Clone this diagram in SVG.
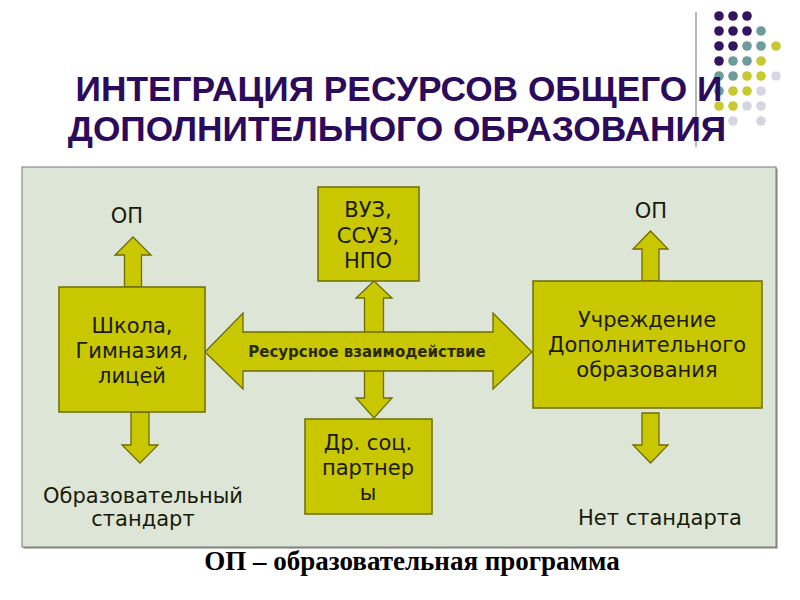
<svg xmlns="http://www.w3.org/2000/svg" width="800" height="600" viewBox="0 0 800 600">
<style>
.box{fill:#c9c700;stroke:#6e6c00;stroke-width:1.5}
.arr{fill:#c9c700;stroke:#6e6c00;stroke-width:1.3;stroke-linejoin:miter}
.t{font-family:"DejaVu Sans",Verdana,sans-serif;font-size:21px;fill:#1a1a0a;text-anchor:middle}
.title{font-family:"Liberation Sans",Arial,sans-serif;font-weight:bold;font-size:35.3px;fill:#2c0b5c;text-anchor:middle}
.p{fill:#34135f}.g{fill:#6d9c9a}.y{fill:#c8c832}.l{fill:#d6d6e2}
</style>
<rect width="800" height="600" fill="#ffffff"/>
<g id="decor">
<line x1="696" y1="12" x2="696" y2="147" stroke="#a0a0a0" stroke-width="1.5"/>
<g>
<circle class="p" cx="719" cy="16" r="4.8"/><circle class="p" cx="733" cy="16" r="4.8"/><circle class="p" cx="747" cy="16" r="4.8"/>
<circle class="p" cx="719" cy="31" r="4.8"/><circle class="p" cx="733" cy="31" r="4.8"/><circle class="p" cx="747" cy="31" r="4.8"/><circle class="g" cx="761" cy="31" r="4.8"/>
<circle class="p" cx="719" cy="46" r="4.8"/><circle class="p" cx="733" cy="46" r="4.8"/><circle class="g" cx="747" cy="46" r="4.8"/><circle class="g" cx="761" cy="46" r="4.8"/><circle class="y" cx="776" cy="46" r="4.8"/>
<circle class="p" cx="719" cy="61" r="4.8"/><circle class="g" cx="733" cy="61" r="4.8"/><circle class="g" cx="747" cy="61" r="4.8"/><circle class="y" cx="761" cy="61" r="4.8"/>
<circle class="g" cx="719" cy="76" r="4.8"/><circle class="g" cx="733" cy="76" r="4.8"/><circle class="y" cx="747" cy="76" r="4.8"/><circle class="y" cx="761" cy="76" r="4.8"/><circle class="l" cx="776" cy="76" r="4.8"/>
<circle class="g" cx="719" cy="91" r="4.8"/><circle class="y" cx="733" cy="91" r="4.8"/><circle class="y" cx="747" cy="91" r="4.8"/><circle class="l" cx="761" cy="91" r="4.8"/>
<circle class="y" cx="719" cy="106" r="4.8"/><circle class="y" cx="733" cy="106" r="4.8"/><circle class="l" cx="747" cy="106" r="4.8"/><circle class="l" cx="761" cy="106" r="4.8"/>
<circle class="l" cx="733" cy="121" r="4.8"/><circle class="l" cx="761" cy="121" r="4.8"/>
</g>
</g>
<g id="title">
<text class="title" x="399" y="101">ИНТЕГРАЦИЯ РЕСУРСОВ ОБЩЕГО И</text>
<text class="title" x="397" y="141">ДОПОЛНИТЕЛЬНОГО ОБРАЗОВАНИЯ</text>
</g>
<g id="panel">
<rect x="23.5" y="168.5" width="754" height="380" fill="#7a7a7a"/>
<rect x="22" y="167" width="754" height="380" fill="#dde6d6" stroke="#8c8c8c" stroke-width="1.2"/>
</g>
<g id="connectors">
<polygon class="arr" points="124.5,287 124.5,255 115,255 133,237 151,255 141.5,255 141.5,287"/>
<polygon class="arr" points="131,412 149,412 149,445 158,445 140,463 122,445 131,445"/>
<polygon class="arr" points="642,281 642,249 633,249 650.5,231 668,249 659,249 659,281"/>
<polygon class="arr" points="642,413 659,413 659,445 668,445 650.5,463 633,445 642,445"/>
<polygon class="arr" points="364.5,298 356,298 374,281 392,298 383.5,298 383.5,398 392,398 374,418 356,398 364.5,398"/>
<polygon class="arr" points="205,352 243,313 243,332 493,332 493,313 532,352 493,389 493,371 243,371 243,389"/>
<text x="367" y="357" font-family="DejaVu Sans,Verdana,sans-serif" font-weight="bold" font-size="15" fill="#2a2a05" text-anchor="middle">Ресурсное взаимодействие</text>
</g>
<g id="node-school">
<rect class="box" x="59" y="287" width="146" height="125"/>
<text class="t" x="132" y="333">Школа,</text>
<text class="t" x="132" y="358">Гимназия,</text>
<text class="t" x="132" y="383">лицей</text>
</g>
<g id="node-vuz">
<rect class="box" x="318" y="187" width="101" height="94"/>
<text class="t" x="368" y="217">ВУЗ,</text>
<text class="t" x="368" y="243">ССУЗ,</text>
<text class="t" x="368" y="268">НПО</text>
</g>
<g id="node-partners">
<rect class="box" x="305" y="419" width="127" height="95"/>
<text class="t" x="368" y="450">Др. соц.</text>
<text class="t" x="368" y="475">партнер</text>
<text class="t" x="368" y="500">ы</text>
</g>
<g id="node-dod">
<rect class="box" x="533" y="281" width="229" height="127"/>
<text class="t" x="647" y="327">Учреждение</text>
<text class="t" x="647" y="352">Дополнительного</text>
<text class="t" x="647" y="377">образования</text>
</g>
<g id="labels">
<text class="t" x="127" y="223">ОП</text>
<text class="t" x="651" y="218">ОП</text>
<text class="t" x="143" y="503">Образовательный</text>
<text class="t" x="143" y="526">стандарт</text>
<text class="t" x="660" y="525">Нет стандарта</text>
</g>
<g id="caption">
<text x="412" y="570" font-family="Liberation Serif,Times New Roman,serif" font-weight="bold" font-size="27" fill="#000000" text-anchor="middle">ОП – образовательная программа</text>
</g>
</svg>
